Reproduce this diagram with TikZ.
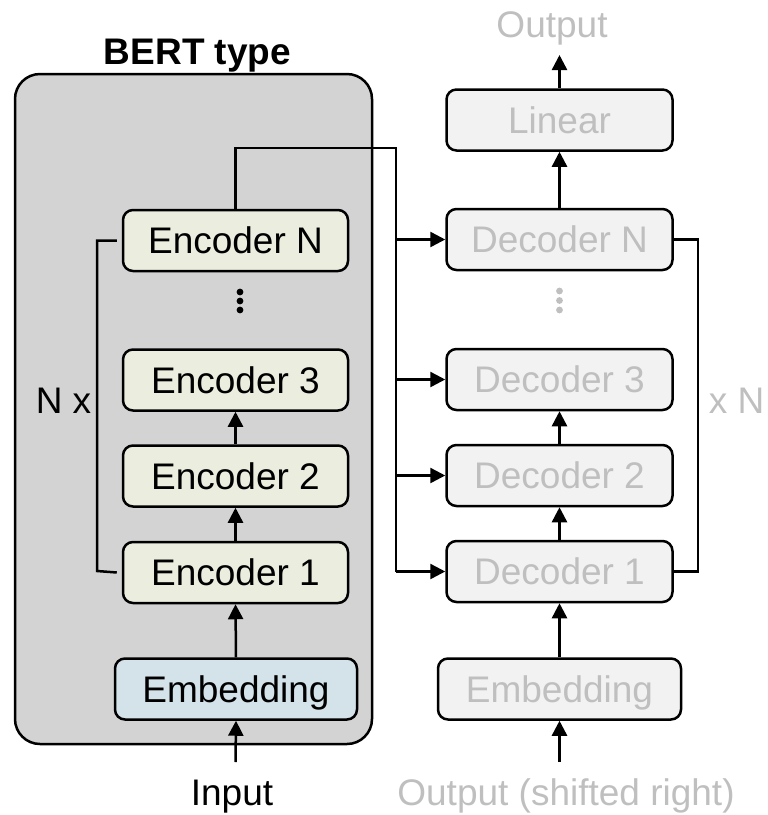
\documentclass[tikz,border=0pt]{standalone}
\usepackage{fontspec}
\setmainfont{Liberation Sans}
\usetikzlibrary{arrows.meta}
\definecolor{bertgray}{HTML}{D3D3D3}
\definecolor{encfill}{HTML}{EBEEDF}
\definecolor{embfill}{HTML}{D4E2E9}
\definecolor{decfill}{HTML}{F2F2F2}
\definecolor{fadetext}{HTML}{BFBFBF}
\tikzset{
  txt/.style={font=\fontsize{37}{44}\selectfont},
  block/.style={txt, draw=black, line width=2.5pt, rounded corners=10pt,
    minimum height=61pt, text height=26.5pt, text depth=0pt, inner sep=0pt},
  encbox/.style={block, fill=encfill, minimum width=225pt},
  decbox/.style={block, fill=decfill, text=fadetext, minimum width=226pt},
  wire/.style={line width=2.5pt, line join=miter},
  arr/.style={wire, -{Triangle[length=15pt,width=15pt]}},
}
\begin{document}
\begin{tikzpicture}[x=1pt,y=-1pt]
\useasboundingbox (0,0) rectangle (768,815);

% encoder-only container
\draw[fill=bertgray, line width=2.5pt, rounded corners=25pt] (15,74) rectangle (372,744);
\node[txt, font=\fontsize{37}{44}\selectfont\bfseries, anchor=base] (bert) at (197.5,64) {BERT type};

% encoder stack
\node[encbox] (encN) at (235.5,240.5) {Encoder N};
\node[encbox] (enc3) at (235.5,380) {Encoder 3};
\node[encbox] (enc2) at (235.5,476) {Encoder 2};
\node[encbox] (enc1) at (235.5,572.5) {Encoder 1};
\node[block, fill=embfill, minimum width=242pt] (embL) at (236,689) {Embedding};
\node[txt, anchor=base] (input) at (232,805) {Input};
\foreach \yy in {292,301,310} \fill (240,\yy) circle (3.4pt);

% decoder stack
\node[decbox] (lin) at (559.5,120) {Linear};
\node[decbox] (decN) at (559.5,239.5) {Decoder N};
\node[decbox] (dec3) at (559.5,379.5) {Decoder 3};
\node[decbox] (dec2) at (559.5,475.5) {Decoder 2};
\node[decbox] (dec1) at (559.5,571.5) {Decoder 1};
\node[block, fill=decfill, text=fadetext, minimum width=243pt] (embR) at (559.5,689) {Embedding};
\node[txt, text=fadetext, anchor=base] (out) at (552,37) {Output};
\node[txt, text=fadetext, anchor=base] (shift) at (566,805) {Output (shifted right)};
\foreach \yy in {291,300.5,310} \fill[fadetext] (559.5,\yy) circle (3.4pt);

% repeat brackets
\node[txt, anchor=base] (nx) at (63.5,413) {N x};
\node[txt, text=fadetext, anchor=base] (xn) at (736.5,413) {x N};
\draw[wire] ([xshift=-5pt]encN.west) -- (97,240.5) -- (97,571) -- ([xshift=-5pt]enc1.west);
\draw[wire] (decN.east) -- (698,239.5) -- (698,571.5) -- (dec1.east);

% flow inside each stack
\coordinate (inL) at (235.5,762);
\coordinate (inR) at (559.5,762);
\draw[arr] (inL) -- (embL.south);
\draw[arr] (embL.north) -- (enc1.south);
\draw[arr] (enc1.north) -- (enc2.south);
\draw[arr] (enc2.north) -- (enc3.south);
\draw[arr] (inR) -- (embR.south);
\draw[arr] (embR.north) -- (dec1.south);
\draw[arr] (dec1.north) -- (dec2.south);
\draw[arr] (dec2.north) -- (dec3.south);
\draw[arr] (decN.north) -- (lin.south);
\coordinate (outtip) at (559.5,55);
\draw[arr] (lin.north) -- (outtip);

% encoder output fed to every decoder layer
\coordinate (busTop) at (396,148);
\coordinate (busBot) at (396,571.5);
\draw[wire] (encN.north) |- (busTop) -- (busBot);
\foreach \d in {decN,dec3,dec2,dec1}
  \draw[arr] (busTop |- \d.west) -- (\d.west);
\end{tikzpicture}
\end{document}
